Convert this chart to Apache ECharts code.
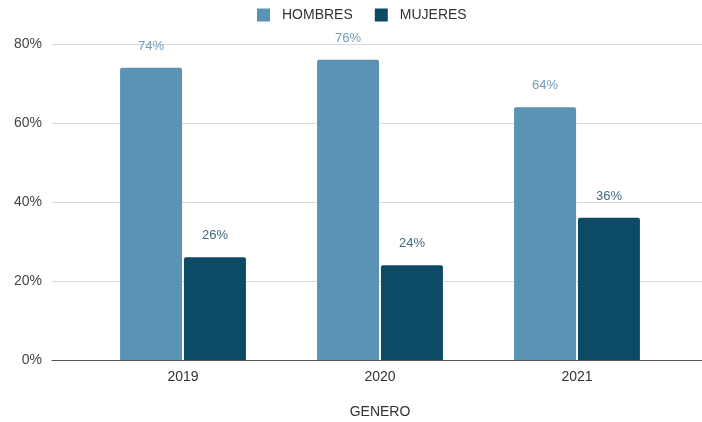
<!DOCTYPE html>
<html><head><meta charset="utf-8">
<script src="https://cdn.jsdelivr.net/npm/echarts@6/dist/echarts.min.js"></script>
<style>html,body{margin:0;padding:0;background:#fff}#c{width:702px;height:422px}</style>
</head><body><div id="c"></div>
<script>
const categories = ['2019', '2020', '2021'];
const hombres = [74, 76, 64];
const mujeres = [26, 24, 36];
const yTicks = [0, 20, 40, 60, 80];

const font = '"Liberation Sans", Arial, sans-serif';
const chart = echarts.init(document.getElementById('c'));
chart.setOption({
  animation: false,
  textStyle: { fontFamily: font },
  legend: {
    top: 3, left: 252, itemWidth: 13, itemHeight: 13, itemGap: 22,
    icon: 'rect',
    textStyle: { fontSize: 14, color: '#333', fontFamily: font, padding: [0, 0, 0, 7] },
    data: ['HOMBRES', 'MUJERES']
  },
  grid: [
    { left: 52, right: 0, top: 44, bottom: 62, outerBoundsMode: 'none' },
    { left: 84.5, right: 26.5, top: 44, bottom: 62, outerBoundsMode: 'none' }
  ],
  xAxis: [
    { type: 'category', gridIndex: 0, data: categories,
      axisLine: { lineStyle: { color: '#555', width: 1.2 } },
      axisTick: { show: false }, axisLabel: { show: false } },
    { type: 'category', gridIndex: 1, data: categories,
      axisLine: { show: false }, axisTick: { show: false },
      axisLabel: { color: '#333', fontSize: 14, margin: 10, fontFamily: font },
      name: 'GENERO', nameLocation: 'middle', nameGap: 45,
      nameTextStyle: { color: '#333', fontSize: 14, fontFamily: font } }
  ],
  yAxis: [
    { type: 'value', gridIndex: 0, min: yTicks[0], max: yTicks[yTicks.length - 1], interval: 20,
      axisLine: { show: false }, axisTick: { show: false },
      axisLabel: { formatter: '{value}%', color: '#444', fontSize: 14, margin: 10, fontFamily: font },
      splitLine: { lineStyle: { color: '#d9d9d9' } } },
    { type: 'value', gridIndex: 1, min: 0, max: 80, show: false, splitLine: { show: false } }
  ],
  series: [
    { name: 'HOMBRES', type: 'bar', xAxisIndex: 1, yAxisIndex: 1, data: hombres,
      barWidth: 62, barGap: '3%',
      itemStyle: { color: '#5a93b3', borderRadius: [2, 2, 0, 0] },
      label: { show: true, position: 'top', distance: 15, formatter: '{c}%', color: '#6f9dbd', fontSize: 13, fontFamily: font } },
    { name: 'MUJERES', type: 'bar', xAxisIndex: 1, yAxisIndex: 1, data: mujeres,
      barWidth: 62,
      itemStyle: { color: '#0c4a66', borderRadius: [2, 2, 0, 0] },
      label: { show: true, position: 'top', distance: 15, formatter: '{c}%', color: '#3f6a82', fontSize: 13, fontFamily: font } }
  ]
});
</script></body></html>
